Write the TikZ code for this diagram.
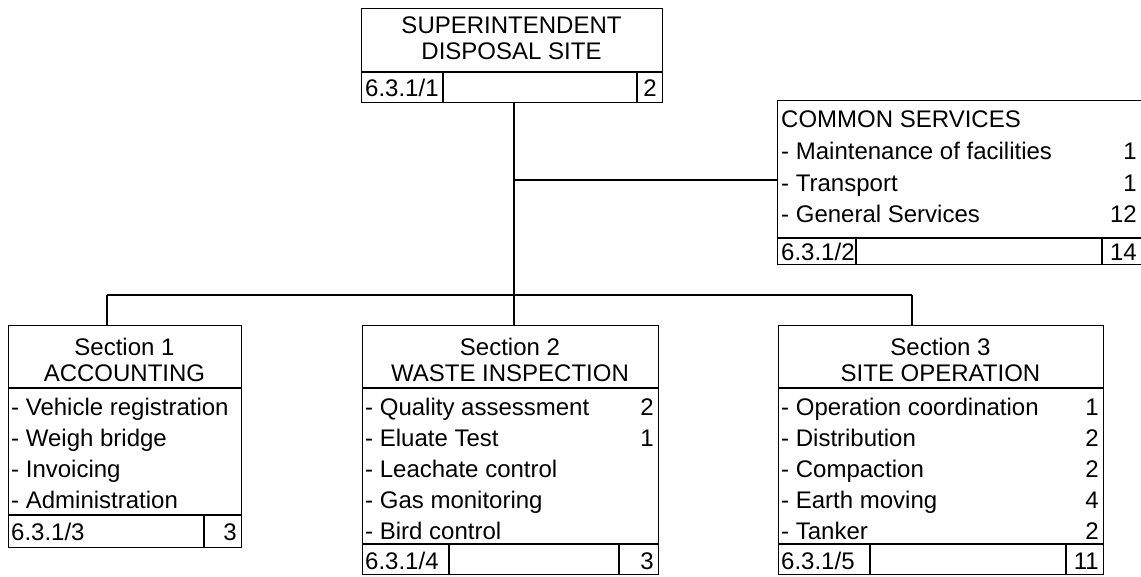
\documentclass[tikz,border=0pt]{standalone}
\usepackage{fontspec}
\setmainfont{Liberation Sans}
\usetikzlibrary{positioning}
\begin{document}
\begin{tikzpicture}[x=1pt, y=-1pt,
  font=\fontsize{24}{29}\selectfont,
  box/.style={draw, line width=1.3pt, inner sep=0pt, anchor=north west},
  rule/.style={line width=1.1pt},
  link/.style={line width=1.1pt},
  item/.style={inner sep=0pt, anchor=base west},
  qty/.style={inner sep=0pt, anchor=base east},
  head/.style={inner sep=0pt, anchor=base}]
\useasboundingbox (0,0) rectangle (1141,576);
% boxes
\node[box, minimum width=301pt, minimum height=94pt] (super) at (361,8) {};
\node[box, minimum width=370pt, minimum height=164pt] (common) at (777,100) {};
\node[box, minimum width=233pt, minimum height=222pt] (sec1) at (8,325) {};
\node[box, minimum width=296pt, minimum height=249pt] (sec2) at (362,325) {};
\node[box, minimum width=325pt, minimum height=249pt] (sec3) at (778,325) {};
% inner rules
\draw[rule] (361,72) -- (662,72) (443,72) -- (443,102) (637,72) -- (637,102);
\draw[rule] (777,238) -- (1147,238) (856,238) -- (856,264) (1102,238) -- (1102,264);
\draw[rule] (8,388) -- (241,388) (8,515) -- (241,515) (204,515) -- (204,547);
\draw[rule] (362,388) -- (658,388) (362,544) -- (658,544) (449,544) -- (449,574) (619,544) -- (619,574);
\draw[rule] (778,388) -- (1103,388) (778,544) -- (1103,544) (870,544) -- (870,574) (1066,544) -- (1066,574);
% superintendent
\node[head] (supA) at (511.5,33) {SUPERINTENDENT};
\node[head] (supB) at (511.5,59) {DISPOSAL SITE};
\node[item] (supRef) at (365,96) {6.3.1/1};
\node[qty] (supNo) at (657,96) {2};
% common services
\node[item] (comA) at (781,127) {COMMON SERVICES};
\node[item] (comB) at (781,159) {- Maintenance of facilities};
\node[item] (comC) at (781,191) {- Transport};
\node[item] (comD) at (781,222) {- General Services};
\node[qty] (comBn) at (1137,159) {1};
\node[qty] (comCn) at (1137,191) {1};
\node[qty] (comDn) at (1137,222) {12};
\node[item] (comRef) at (781,260) {6.3.1/2};
\node[qty] (comNo) at (1137,260) {14};
% section 1
\node[head] (s1A) at (124.5,355) {Section 1};
\node[head] (s1B) at (124.5,381) {ACCOUNTING};
\node[item] (s1a) at (11,415) {- Vehicle registration};
\node[item] (s1b) at (11,446) {- Weigh bridge};
\node[item] (s1c) at (11,477) {- Invoicing};
\node[item] (s1d) at (11,508) {- Administration};
\node[item] (s1Ref) at (11,540) {6.3.1/3};
\node[qty] (s1No) at (237,540) {3};
% section 2
\node[head] (s2A) at (510,355) {Section 2};
\node[head] (s2B) at (510,381) {WASTE INSPECTION};
\node[item] (s2a) at (365,415) {- Quality assessment};
\node[item] (s2b) at (365,446) {- Eluate Test};
\node[item] (s2c) at (365,477) {- Leachate control};
\node[item] (s2d) at (365,508) {- Gas monitoring};
\node[item] (s2e) at (365,539) {- Bird control};
\node[qty] (s2an) at (654,415) {2};
\node[qty] (s2bn) at (654,446) {1};
\node[item] (s2Ref) at (365,569) {6.3.1/4};
\node[qty] (s2No) at (654,569) {3};
% section 3
\node[head] (s3A) at (940.5,355) {Section 3};
\node[head] (s3B) at (940.5,381) {SITE OPERATION};
\node[item] (s3a) at (781,415) {- Operation coordination};
\node[item] (s3b) at (781,446) {- Distribution};
\node[item] (s3c) at (781,477) {- Compaction};
\node[item] (s3d) at (781,508) {- Earth moving};
\node[item] (s3e) at (781,539) {- Tanker};
\node[qty] (s3an) at (1099,415) {1};
\node[qty] (s3bn) at (1099,446) {2};
\node[qty] (s3cn) at (1099,477) {2};
\node[qty] (s3dn) at (1099,508) {4};
\node[qty] (s3en) at (1099,539) {2};
\node[item] (s3Ref) at (781,569) {6.3.1/5};
\node[qty] (s3No) at (1099,569) {11};
% connectors
\coordinate (trunk) at (514,295);
\coordinate (tee) at (514,180);
\coordinate (left) at (107,295);
\coordinate (right) at (912,295);
\draw[link] (super.south -| trunk) -- (sec2.north -| trunk);
\draw[link] (tee) -- (tee -| common.west);
\draw[link] (left) -- (right);
\draw[link] (left) -- (sec1.north -| left);
\draw[link] (right) -- (sec3.north -| right);
\end{tikzpicture}
\end{document}
